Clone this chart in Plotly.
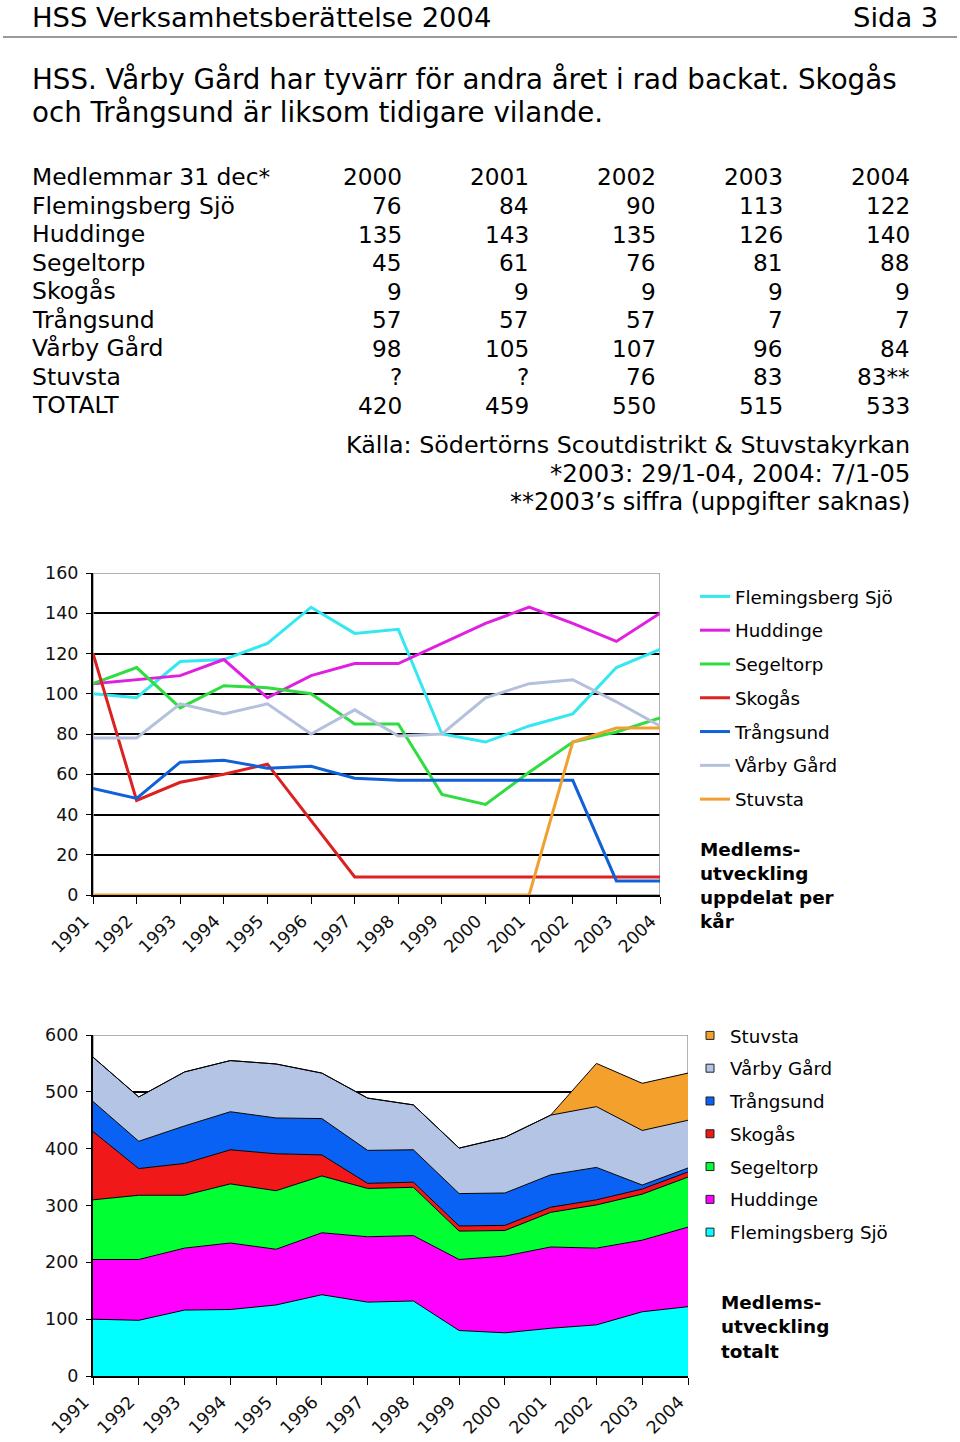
import plotly.graph_objects as go

W, H = 960, 1442


def px(x):
    return x / W


def py(y):
    return 1 - y / H


FONT = "DejaVu Sans"

# ---------------- data ----------------
years = [1991, 1992, 1993, 1994, 1995, 1996, 1997, 1998, 1999, 2000, 2001, 2002, 2003, 2004]
year_labels = [str(y) for y in years]

series_names = ["Flemingsberg Sjö", "Huddinge", "Segeltorp", "Skogås", "Trångsund", "Vårby Gård", "Stuvsta"]
fleming = [100, 98, 116, 117, 125, 143, 130, 132, 80, 76, 84, 90, 113, 122]
huddinge = [105, 107, 109, 117, 98, 109, 115, 115, 125, 135, 143, 135, 126, 140]
segeltorp = [105, 113, 93, 104, 103, 100, 85, 85, 50, 45, 61, 76, 81, 88]
skogas = [120, 47, 56, 60, 65, 37, 9, 9, 9, 9, 9, 9, 9, 9]
trangsund = [53, 48, 66, 67, 63, 64, 58, 57, 57, 57, 57, 57, 7, 7]
varby = [78, 78, 95, 90, 95, 80, 92, 79, 80, 98, 105, 107, 96, 84]
stuvsta = [0, 0, 0, 0, 0, 0, 0, 0, 0, 0, 0, 76, 83, 83]
series_values = [fleming, huddinge, segeltorp, skogas, trangsund, varby, stuvsta]

line_colors = ["#33E8F0", "#E020E0", "#30DD40", "#DD2020", "#1060D8", "#B4C0DC", "#F0A030"]
area_colors = ["#00FFFF", "#FF00FF", "#00FF33", "#F01818", "#0A62F5", "#B4C4E4", "#F4A02C"]

# table
table_header = ["Medlemmar 31 dec*", "2000", "2001", "2002", "2003", "2004"]
table_labels = ["Flemingsberg Sjö", "Huddinge", "Segeltorp", "Skogås", "Trångsund", "Vårby Gård", "Stuvsta", "TOTALT"]
t_fleming = ["76", "84", "90", "113", "122"]
t_huddinge = ["135", "143", "135", "126", "140"]
t_segeltorp = ["45", "61", "76", "81", "88"]
t_skogas = ["9", "9", "9", "9", "9"]
t_trangsund = ["57", "57", "57", "7", "7"]
t_varby = ["98", "105", "107", "96", "84"]
t_stuvsta = ["?", "?", "76", "83", "83**"]
t_total = ["420", "459", "550", "515", "533"]
table_values = [t_fleming, t_huddinge, t_segeltorp, t_skogas, t_trangsund, t_varby, t_stuvsta, t_total]

header_left = "HSS Verksamhetsberättelse 2004"
header_right = "Sida 3"
paragraph = ["HSS. Vårby Gård har tyvärr för andra året i rad backat. Skogås",
             "och Trångsund är liksom tidigare vilande."]
source_lines = ["Källa: Södertörns Scoutdistrikt & Stuvstakyrkan",
                "*2003: 29/1-04, 2004: 7/1-05",
                "**2003’s siffra (uppgifter saknas)"]
title1 = ["Medlems-", "utveckling", "uppdelat per", "kår"]
title2 = ["Medlems-", "utveckling", "totalt"]

# ---------------- figure ----------------
fig = go.Figure()

for name, vals, col in zip(series_names, series_values, line_colors):
    fig.add_trace(go.Scatter(x=years, y=vals, mode="lines", name=name,
                             line=dict(color=col, width=3),
                             legend="legend", legendgroup="l" + name,
                             xaxis="x", yaxis="y"))

for name, vals, col in zip(series_names, series_values, area_colors):
    fig.add_trace(go.Scatter(x=years, y=vals, mode="lines", name=name,
                             stackgroup="one", fillcolor=col,
                             line=dict(color="black", width=1),
                             showlegend=False, xaxis="x2", yaxis="y2"))

for name, col in zip(series_names[::-1], area_colors[::-1]):
    fig.add_trace(go.Scatter(x=[None], y=[None], mode="markers", name=name,
                             marker=dict(symbol="square", size=8, color=col,
                                         line=dict(color="#222222", width=1)),
                             legend="legend2", legendgroup="a" + name,
                             xaxis="x2", yaxis="y2"))

ann = []


def text(x, y, s, size, xanchor="left", bold=False, yanchor="middle"):
    ann.append(dict(x=px(x), y=py(y), xref="paper", yref="paper",
                    text=("<b>%s</b>" % s) if bold else s,
                    showarrow=False, xanchor=xanchor, yanchor=yanchor,
                    font=dict(family=FONT, size=size, color="black")))


text(30, 0, header_left, 27.4, yanchor="top")
text(940, 0, header_right, 27.4, "right", yanchor="top")
for i, line in enumerate(paragraph):
    text(30, 80 + i * 33, line, 27.7)

col_x = [404, 531, 658, 785, 912]
row_y0, row_dy = 177, 28.5
text(30, row_y0, table_header[0], 23.4)
for j, h in enumerate(table_header[1:]):
    text(col_x[j], row_y0, h, 23.2, "right")
for i, (lab, vals) in enumerate(zip(table_labels, table_values)):
    yy = row_y0 + (i + 1) * row_dy
    text(30, yy, lab, 23.5)
    for j, v in enumerate(vals):
        text(col_x[j], yy, v, 23.2, "right")

source_sizes = [23.8, 24.6, 24.0]
for i, (line, sz) in enumerate(zip(source_lines, source_sizes)):
    text(912, 445 + i * 28.5, line, sz, "right")

for i, line in enumerate(title1):
    text(698, 849 + i * 24.3, line, 18.4, bold=True)
for i, line in enumerate(title2):
    text(719, 1302 + i * 24.5, line, 18.4, bold=True)

axis_common = dict(ticks="outside", tickcolor="black", showline=True, linecolor="black",
                   linewidth=2, tickfont=dict(family=FONT, size=17.5, color="#111"),
                   zeroline=False, layer="below traces", automargin=False)

fig.update_layout(
    template="none",
    width=W, height=H, autosize=False,
    margin=dict(l=0, r=0, t=0, b=0, pad=0, autoexpand=False),
    paper_bgcolor="white", plot_bgcolor="white",
    annotations=ann,
    xaxis=dict(domain=[px(93), px(660)], range=[1991, 2004], tickvals=years, ticktext=year_labels,
               tickangle=-45, ticklen=7, ticklabelshift=-9, showgrid=False, anchor="y", **axis_common),
    yaxis=dict(domain=[py(895), py(573)], range=[0, 160], dtick=20, ticklen=5, ticklabelstandoff=4,
               showgrid=True, gridcolor="black", gridwidth=1.5, anchor="x", **axis_common),
    xaxis2=dict(domain=[px(93), px(688)], range=[1991, 2004], tickvals=years, ticktext=year_labels,
                tickangle=-45, ticklen=7, ticklabelshift=-9, showgrid=False, anchor="y2", **axis_common),
    yaxis2=dict(domain=[py(1376), py(1035)], range=[0, 600], dtick=100, ticklen=5, ticklabelstandoff=4,
                showgrid=True, gridcolor="black", gridwidth=1.5, anchor="x2", **axis_common),
    legend=dict(x=px(695), y=py(578), xanchor="left", yanchor="top",
                font=dict(family=FONT, size=18.3, color="black"), tracegroupgap=7,
                bgcolor="rgba(0,0,0,0)", traceorder="grouped", borderwidth=0),
    legend2=dict(x=px(690), y=py(1017), xanchor="left", yanchor="top",
                 font=dict(family=FONT, size=18.3, color="black"), tracegroupgap=6,
                 bgcolor="rgba(0,0,0,0)", traceorder="grouped", borderwidth=0),
    shapes=[
        dict(type="line", xref="paper", yref="paper", x0=px(3), x1=px(957), y0=py(37), y1=py(37),
             line=dict(color="#9a9a9a", width=2)),
        dict(type="rect", xref="x", yref="y", x0=1991, x1=2004, y0=0, y1=160,
             line=dict(color="#999999", width=1.5), layer="between"),
        dict(type="rect", xref="x2", yref="y2", x0=1991, x1=2004, y0=0, y1=600,
             line=dict(color="#999999", width=1.5), layer="between"),
    ],
    showlegend=True,
)

fig.write_html("out.html", config={"displayModeBar": False},
               post_script="document.body.style.margin='0';document.body.style.overflow='hidden';")
